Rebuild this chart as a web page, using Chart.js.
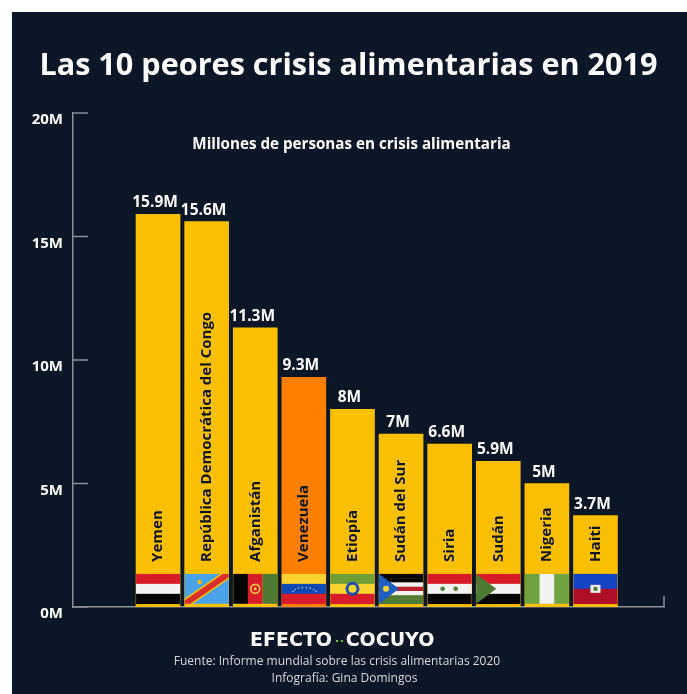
<!DOCTYPE html>
<html>
<head>
<meta charset="utf-8">
<style>
  html, body { margin: 0; padding: 0; background: #fff; }
  #panel { position: absolute; left: 12px; top: 12px; width: 675px; height: 682px; background: #0b1626; }
  #chart { position: absolute; left: 0; top: 0; }
</style>
</head>
<body>
<div id="panel"></div>
<canvas id="chart" width="687" height="694"></canvas>
<script src="https://cdn.jsdelivr.net/npm/chart.js@4/dist/chart.umd.js"></script>
<script>
const categories = ['Yemen', 'República Democrática del Congo', 'Afganistán', 'Venezuela', 'Etiopía', 'Sudán del Sur', 'Siria', 'Sudán', 'Nigeria', 'Haiti'];
const millions = [15.9, 15.6, 11.3, 9.3, 8, 7, 6.6, 5.9, 5, 3.7];
const barColors = ['#fac000', '#fac000', '#fac000', '#ff8000', '#fac000', '#fac000', '#fac000', '#fac000', '#fac000', '#fac000'];
const yTicks = [0, 5, 10, 15, 20];

const FONT = '"Open Sans", sans-serif';
const AXIS = '#8a8f98';

// Flags are painted in a 44x30 box, one function per country
function bands(ctx, b, colors) {
    const h = b.h / colors.length;
    colors.forEach((c, i) => {
        ctx.fillStyle = c;
        ctx.fillRect(b.x, b.y + i * h, b.w, h + 0.3);
    });
}
function poly(ctx, color, pts) {
    ctx.fillStyle = color;
    ctx.beginPath();
    pts.forEach((p, i) => i ? ctx.lineTo(p[0], p[1]) : ctx.moveTo(p[0], p[1]));
    ctx.closePath();
    ctx.fill();
}
const flags = [
    (ctx, b) => bands(ctx, b, ['#d91c2a', '#f2f2f2', '#050505']),
    (ctx, b) => {
        ctx.fillStyle = '#4aa3e8';
        ctx.fillRect(b.x, b.y, b.w, b.h);
        ctx.save();
        ctx.beginPath();
        ctx.rect(b.x, b.y, b.w, b.h);
        ctx.clip();
        [['#fac000', 9], ['#d9302c', 6]].forEach(s => {
            ctx.strokeStyle = s[0];
            ctx.lineWidth = s[1];
            ctx.beginPath();
            ctx.moveTo(b.x - 1, b.y + b.h + 1);
            ctx.lineTo(b.x + b.w + 1, b.y - 1);
            ctx.stroke();
        });
        ctx.restore();
        ctx.fillStyle = '#fac000';
        ctx.beginPath();
        ctx.arc(b.x + 15, b.y + 8, 2.2, 0, Math.PI * 2);
        ctx.fill();
    },
    (ctx, b) => {
        const w = b.w / 3;
        ctx.fillStyle = '#050505'; ctx.fillRect(b.x, b.y, w, b.h);
        ctx.fillStyle = '#d91c2a'; ctx.fillRect(b.x + w, b.y, w, b.h);
        ctx.fillStyle = '#4f7a35'; ctx.fillRect(b.x + 2 * w, b.y, w, b.h);
        ctx.strokeStyle = '#f5c842';
        ctx.lineWidth = 1.6;
        ctx.beginPath();
        ctx.arc(b.x + b.w / 2, b.y + b.h / 2, 4.5, 0, Math.PI * 2);
        ctx.stroke();
        ctx.fillStyle = '#f5c842';
        ctx.beginPath();
        ctx.arc(b.x + b.w / 2, b.y + b.h / 2, 1.5, 0, Math.PI * 2);
        ctx.fill();
    },
    (ctx, b) => {
        bands(ctx, b, ['#fbd431', '#0f4bb5', '#d91c2a']);
        ctx.fillStyle = '#cfe0f5';
        for (let i = 0; i < 8; i++) {
            const a = Math.PI * (1.15 + i * 0.7 / 7);
            ctx.fillRect(b.x + b.w / 2 + Math.cos(a) * 13, b.y + 20 + Math.sin(a) * 7, 1.2, 1.2);
        }
    },
    (ctx, b) => {
        bands(ctx, b, ['#6f9e35', '#fbd431', '#d91c2a']);
        ctx.fillStyle = '#1d4fb0';
        ctx.beginPath();
        ctx.arc(b.x + b.w / 2, b.y + b.h / 2, 7, 0, Math.PI * 2);
        ctx.fill();
        ctx.fillStyle = '#fbd431';
        ctx.beginPath();
        ctx.arc(b.x + b.w / 2, b.y + b.h / 2, 4, 0, Math.PI * 2);
        ctx.fill();
    },
    (ctx, b) => {
        bands(ctx, b, ['#050505', '#050505', '#f2f2f2', '#b8202c', '#f2f2f2', '#4f7a35', '#4f7a35']);
        poly(ctx, '#1f5fc4', [[b.x, b.y], [b.x + 20, b.y + b.h / 2], [b.x, b.y + b.h]]);
        ctx.fillStyle = '#fbd431';
        ctx.beginPath();
        ctx.arc(b.x + 7, b.y + b.h / 2, 3, 0, Math.PI * 2);
        ctx.fill();
    },
    (ctx, b) => {
        bands(ctx, b, ['#d91c2a', '#f2f2f2', '#050505']);
        ctx.fillStyle = '#4f8a3a';
        [15, 28].forEach(dx => {
            ctx.beginPath();
            ctx.arc(b.x + dx, b.y + b.h / 2, 2.4, 0, Math.PI * 2);
            ctx.fill();
        });
    },
    (ctx, b) => {
        bands(ctx, b, ['#d91c2a', '#f2f2f2', '#050505']);
        poly(ctx, '#4f7a35', [[b.x, b.y], [b.x + 20, b.y + b.h / 2], [b.x, b.y + b.h]]);
    },
    (ctx, b) => {
        const w = b.w / 3;
        ctx.fillStyle = '#6fa33f'; ctx.fillRect(b.x, b.y, b.w, b.h);
        ctx.fillStyle = '#f0f2f0'; ctx.fillRect(b.x + w, b.y, w, b.h);
    },
    (ctx, b) => {
        bands(ctx, b, ['#1443c4', '#b00f2a']);
        ctx.fillStyle = '#f2f2f2';
        ctx.fillRect(b.x + b.w / 2 - 5, b.y + b.h / 2 - 4, 10, 8);
        ctx.fillStyle = '#4f7a35';
        ctx.fillRect(b.x + b.w / 2 - 2, b.y + b.h / 2 - 2, 4, 4);
    }
];

const decorations = {
    id: 'decorations',
    afterDatasetsDraw(chart) {
        const { ctx, scales: { x, y } } = chart;
        const bars = chart.getDatasetMeta(0).data;
        ctx.save();

        // inward axis ticks
        ctx.strokeStyle = AXIS;
        ctx.lineWidth = 1.5;
        yTicks.forEach(t => {
            const py = y.getPixelForValue(t);
            ctx.beginPath();
            ctx.moveTo(x.left, py);
            ctx.lineTo(x.left + 15, py);
            ctx.stroke();
        });
        ctx.beginPath();
        ctx.moveTo(x.right, y.bottom);
        ctx.lineTo(x.right, y.bottom - 11);
        ctx.stroke();

        bars.forEach((bar, i) => {
            const left = bar.x - bar.width / 2;
            const top = y.getPixelForValue(1.34);
            const bottom = y.getPixelForValue(0.13);
            flags[i](ctx, { x: left, y: top, w: bar.width, h: bottom - top });

            // value above the bar
            ctx.fillStyle = '#fff';
            ctx.textAlign = 'center';
            ctx.textBaseline = 'alphabetic';
            ctx.font = '700 15.5px ' + FONT;
            ctx.fillText(millions[i] + 'M', bar.x - 3, bar.y - 7);

            // country name, reading upwards
            ctx.save();
            ctx.translate(bar.x, top - 12);
            ctx.rotate(-Math.PI / 2);
            ctx.fillStyle = '#10161f';
            ctx.textAlign = 'left';
            ctx.textBaseline = 'middle';
            ctx.font = '700 15px ' + FONT;
            ctx.fillText(categories[i], 0, 0);
            ctx.restore();
        });

        // title and notes
        ctx.textAlign = 'center';
        ctx.textBaseline = 'alphabetic';
        ctx.fillStyle = '#fff';
        ctx.font = '700 30.6px ' + FONT;
        ctx.fillText('Las 10 peores crisis alimentarias en 2019', 348.5, 75);
        ctx.font = '700 15.2px ' + FONT;
        ctx.fillText('Millones de personas en crisis alimentaria', 351.5, 149);

        ctx.font = '700 19px "DejaVu Sans", sans-serif';
        ctx.fillText('EFECTO', 291, 646);
        ctx.fillText('COCUYO', 390, 646);
        ctx.fillStyle = '#7cc13c';
        ctx.fillRect(336, 640, 2, 2);
        ctx.fillRect(341, 640, 2, 2);
        ctx.fillStyle = '#d8dade';
        ctx.font = '12px ' + FONT;
        ctx.fillText('Fuente: Informe mundial sobre las crisis alimentarias 2020', 337, 665);
        ctx.fillText('Infografía: Gina Domingos', 344.5, 682);
        ctx.restore();
    }
};

new Chart(document.getElementById('chart'), {
    type: 'bar',
    data: {
        datasets: [{
            data: categories.map((c, i) => ({ x: i, y: millions[i] })),
            backgroundColor: barColors,
            barThickness: 44
        }]
    },
    options: {
        responsive: false,
        animation: false,
        layout: { padding: { top: 113, bottom: 79, right: 23, left: 0 } },
        plugins: { legend: { display: false }, tooltip: { enabled: false } },
        scales: {
            x: {
                type: 'linear',
                offset: false,
                min: -1.75,
                max: 10.41,
                grid: { display: false },
                border: { color: AXIS, width: 1.5 },
                ticks: { display: false }
            },
            y: {
                min: 0,
                max: 20,
                afterFit(scale) { scale.width = 73; },
                grid: { display: false },
                border: { color: AXIS, width: 1.5 },
                ticks: {
                    stepSize: 5,
                    padding: 2,
                    labelOffset: 7,
                    color: '#fff',
                    font: { family: FONT, size: 15, weight: '700' },
                    callback: v => v + 'M'
                }
            }
        }
    },
    plugins: [decorations]
});
</script>
</body>
</html>
